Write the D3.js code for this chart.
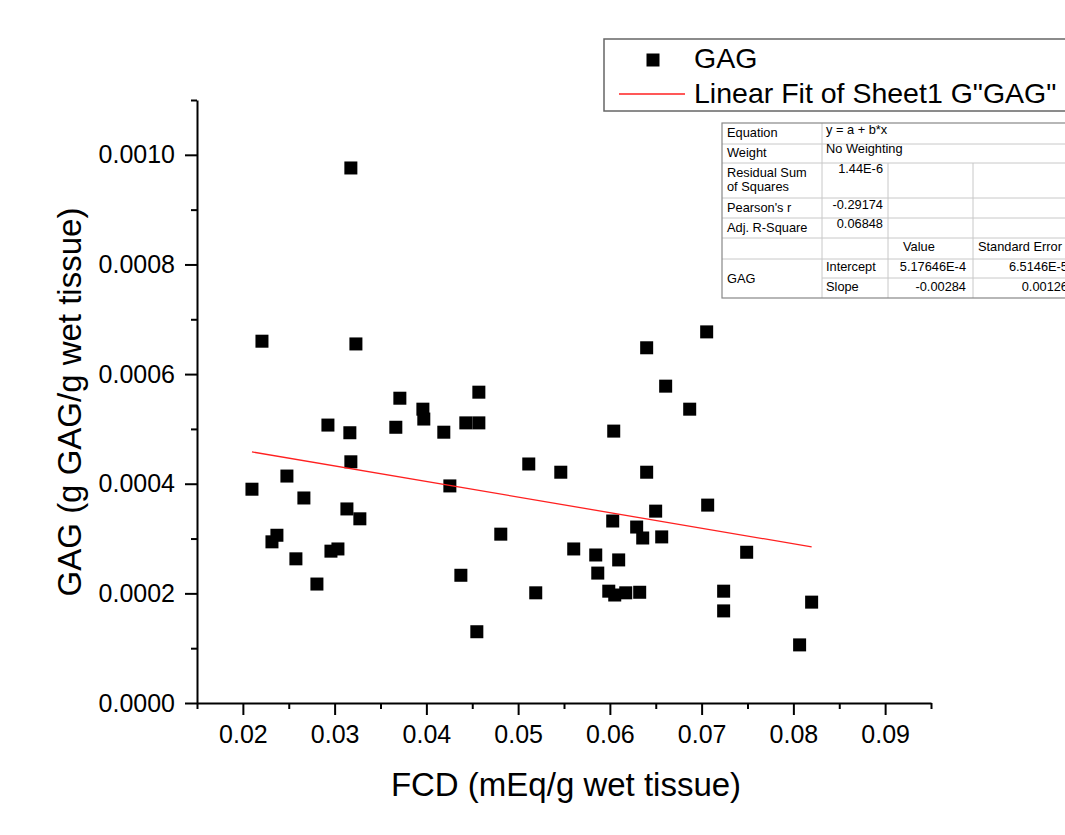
<!DOCTYPE html>
<html>
<head>
<meta charset="utf-8">
<script src="https://cdn.jsdelivr.net/npm/d3@7"></script>
<style>
  body { margin: 0; background: #fff; }
  svg { display: block; font-family: "Liberation Sans", Arial, sans-serif; }
</style>
</head>
<body>
<div id="main"></div>
<script>
// FCD (x) and GAG (y)
const fcd = [0.03177, 0.02208, 0.03232, 0.03711, 0.03962, 0.03972, 0.02927, 0.03166, 0.03667, 0.04190,
  0.03177, 0.02480, 0.02099, 0.02665, 0.03134, 0.03275, 0.02371, 0.02317, 0.02960, 0.03036,
  0.02578, 0.02807, 0.06401, 0.06608, 0.04572, 0.04430, 0.04572, 0.06042, 0.05116, 0.05465,
  0.06401, 0.04256, 0.06499, 0.06031, 0.06292, 0.06358, 0.06565, 0.04811, 0.05606, 0.05846,
  0.06096, 0.05868, 0.04376, 0.05988, 0.06053, 0.06173, 0.06325, 0.05192, 0.04550, 0.07055,
  0.06870, 0.07066, 0.07491, 0.07240, 0.07240, 0.08199, 0.08068];
const gag = [0.000976, 0.000660, 0.000655, 0.000556, 0.000536, 0.000518, 0.000507, 0.000493, 0.000503, 0.000494,
  0.000440, 0.000414, 0.000390, 0.000374, 0.000354, 0.000336, 0.000306, 0.000294, 0.000277, 0.000281,
  0.000263, 0.000217, 0.000648, 0.000578, 0.000567, 0.000511, 0.000511, 0.000496, 0.000436, 0.000421,
  0.000421, 0.000396, 0.000350, 0.000332, 0.000321, 0.000301, 0.000303, 0.000308, 0.000281, 0.000270,
  0.000261, 0.000237, 0.000233, 0.000204, 0.000197, 0.000201, 0.000202, 0.000201, 0.000130, 0.000677,
  0.000536, 0.000361, 0.000275, 0.000204, 0.000168, 0.000184, 0.000106];

const xTicks = [0.02, 0.03, 0.04, 0.05, 0.06, 0.07, 0.08, 0.09];
const xMinor = [0.015, 0.025, 0.035, 0.045, 0.055, 0.065, 0.075, 0.085, 0.095];
const yTicks = [0, 0.0002, 0.0004, 0.0006, 0.0008, 0.0010];
const yMinor = [0.0001, 0.0003, 0.0005, 0.0007, 0.0009, 0.0011];

// linear fit results
const intercept = 5.17646e-4, slope = -0.00284;
const statLabels = ["Equation", "Weight", "Residual Sum|of Squares", "Pearson's r", "Adj. R-Square"];
const statValues = ["y = a + b*x", "No Weighting", "1.44E-6", "-0.29174", "0.06848"];
const paramNames = ["Intercept", "Slope"];
const paramValues = ["5.17646E-4", "-0.00284"];
const paramErrors = ["6.5146E-5", "0.00126"];

const width = 1065, height = 835;
const svg = d3.select('#main').append('svg')
    .attr('width', width)
    .attr('height', height);

const x = d3.scaleLinear().domain([0.015, 0.095]).range([197, 931]);
const y = d3.scaleLinear().domain([0, 0.0011]).range([703, 100]);

// axes
svg.append('g').attr('transform', 'translate(0,703)')
    .call(d3.axisBottom(x).tickValues(xTicks).tickSize(12).tickSizeOuter(0).tickPadding(10).tickFormat(d3.format('.2f')));
svg.append('g').attr('transform', 'translate(0,703)')
    .call(d3.axisBottom(x).tickValues(xMinor).tickSize(6).tickSizeOuter(0).tickFormat(''))
    .select('.domain').remove();
svg.append('g').attr('transform', 'translate(197,0)')
    .call(d3.axisLeft(y).tickValues(yTicks).tickSize(12).tickSizeOuter(0).tickPadding(10).tickFormat(d3.format('.4f')));
svg.append('g').attr('transform', 'translate(197,0)')
    .call(d3.axisLeft(y).tickValues(yMinor).tickSize(6).tickSizeOuter(0).tickFormat(''))
    .select('.domain').remove();

svg.selectAll('.domain').attr('stroke', '#000').attr('stroke-width', 2);
svg.selectAll('.tick line').attr('stroke', '#000').attr('stroke-width', 2);
svg.selectAll('.tick text').attr('fill', '#000').style('font-size', '25px');

svg.append('text')
    .attr('x', 566).attr('y', 796)
    .attr('text-anchor', 'middle')
    .style('font-size', '33px')
    .text('FCD (mEq/g wet tissue)');
svg.append('text')
    .attr('transform', 'translate(81,402) rotate(-90)')
    .attr('text-anchor', 'middle')
    .style('font-size', '33px')
    .text('GAG (g GAG/g wet tissue)');

// points
const pts = fcd.map((v, i) => ({x: v, y: gag[i]}));
const ms = 13;
svg.append('g').selectAll('rect')
    .data(pts)
    .enter().append('rect')
    .attr('x', d => x(d.x) - ms / 2)
    .attr('y', d => y(d.y) - ms / 2)
    .attr('width', ms)
    .attr('height', ms)
    .attr('fill', '#000');

// fit line
const x0 = d3.min(fcd), x1 = d3.max(fcd);
svg.append('line')
    .attr('x1', x(x0)).attr('y1', y(intercept + slope * x0))
    .attr('x2', x(x1)).attr('y2', y(intercept + slope * x1))
    .attr('stroke', '#ff2020')
    .attr('stroke-width', 1.3);

// legend
const lg = svg.append('g');
lg.append('rect')
    .attr('x', 604).attr('y', 39)
    .attr('width', 480).attr('height', 72)
    .attr('fill', '#fff')
    .attr('stroke', '#666')
    .attr('stroke-width', 1.5);
lg.append('rect')
    .attr('x', 653 - ms / 2).attr('y', 60 - ms / 2)
    .attr('width', ms).attr('height', ms)
    .attr('fill', '#000');
lg.append('text').attr('x', 694).attr('y', 68).style('font-size', '28.5px').text('GAG');
lg.append('line')
    .attr('x1', 619).attr('x2', 685).attr('y1', 94).attr('y2', 94)
    .attr('stroke', '#ff2020').attr('stroke-width', 1.3);
lg.append('text').attr('x', 694).attr('y', 103).style('font-size', '28.5px').text('Linear Fit of Sheet1 G"GAG"');

// stats table (runs off the right edge, as in the original)
const tb = svg.append('g').style('font-size', '12.8px');
const colX = [722, 822, 888, 973, 1120];
const rowY = [123, 144, 163, 198, 218, 238, 259, 278, 298];
const grid = '#c8c8c8';
tb.append('rect')
    .attr('x', colX[0]).attr('y', rowY[0])
    .attr('width', colX[4] - colX[0]).attr('height', rowY[8] - rowY[0])
    .attr('fill', '#fff');
rowY.slice(1, 8).forEach((ry, i) => {
  const xs = (i === 6) ? colX[1] : colX[0];
  tb.append('line').attr('x1', xs).attr('x2', colX[4]).attr('y1', ry).attr('y2', ry)
      .attr('stroke', grid);
});
tb.append('line').attr('x1', colX[1]).attr('x2', colX[1]).attr('y1', rowY[0]).attr('y2', rowY[8]).attr('stroke', grid);
[colX[2], colX[3]].forEach(cx => {
  tb.append('line').attr('x1', cx).attr('x2', cx).attr('y1', rowY[2]).attr('y2', rowY[8]).attr('stroke', grid);
});
tb.append('rect')
    .attr('x', colX[0]).attr('y', rowY[0])
    .attr('width', colX[4] - colX[0]).attr('height', rowY[8] - rowY[0])
    .attr('fill', 'none').attr('stroke', '#888').attr('stroke-width', 1.2);

const labelBase = [137, 157, 177, 212, 232];
const valueBase = [134, 153, 173, 209, 228];
statLabels.forEach((t, i) => {
  t.split('|').forEach((p, j) => {
    tb.append('text').attr('x', 727).attr('y', labelBase[i] + j * 14).text(p);
  });
  const v = statValues[i];
  if (i < 2) {
    tb.append('text').attr('x', 826).attr('y', valueBase[i]).text(v);
  } else {
    tb.append('text').attr('x', 883).attr('y', valueBase[i]).attr('text-anchor', 'end').text(v);
  }
});
tb.append('text').attr('x', 903).attr('y', 251).text('Value');
tb.append('text').attr('x', 978).attr('y', 251).text('Standard Error');
tb.append('text').attr('x', 727).attr('y', 283).text('GAG');
paramNames.forEach((p, i) => {
  const by = 271 + i * 20;
  tb.append('text').attr('x', 826).attr('y', by).text(p);
  tb.append('text').attr('x', 966).attr('y', by).attr('text-anchor', 'end').text(paramValues[i]);
  tb.append('text').attr('x', 1068).attr('y', by).attr('text-anchor', 'end').text(paramErrors[i]);
});
</script>
</body>
</html>
